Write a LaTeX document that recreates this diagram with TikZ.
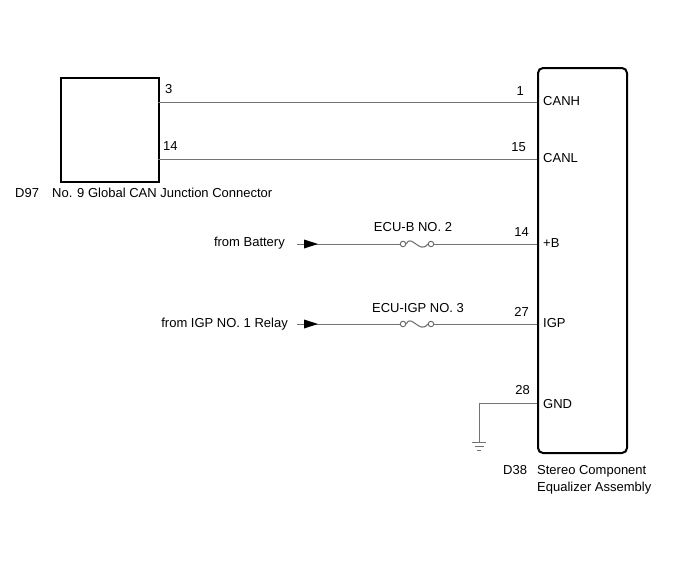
\documentclass[tikz,border=0pt]{standalone}
\usepackage{fontspec}
\setmainfont{Liberation Sans}
\usetikzlibrary{arrows.meta}
\tikzset{
  wire/.style={draw=black!55, line width=1pt},
  lbl/.style={inner sep=0pt, font=\fontsize{13}{15}\selectfont},
  comp/.style={draw=black, line width=2pt},
  feedtip/.style={draw=none, fill=black},
  fusecirc/.style={circle, draw=black!60, fill=white, line width=0.9pt, inner sep=0pt, minimum size=5.5pt},
}
\begin{document}
\begin{tikzpicture}[x=1pt,y=-1pt]
\useasboundingbox (0,0) rectangle (688,560);
% components
\node[comp, minimum width=98pt, minimum height=104pt, inner sep=0pt, anchor=north west] (boxL) at (60,77) {};
\node[comp, rounded corners=5pt, minimum width=89pt, minimum height=385pt, inner sep=0pt, anchor=north west] (boxR) at (537,67) {};
% coordinates
\coordinate (canhL) at (158,102);
\coordinate (canhR) at (537,102);
\coordinate (canlL) at (158,159);
\coordinate (canlR) at (537,159);
\coordinate (batS) at (297,244);
\coordinate (bR) at (537,244);
\coordinate (igS) at (297,324);
\coordinate (iR) at (537,324);
\coordinate (gR) at (537,403);
\coordinate (gC) at (479,403);
\coordinate (gB) at (479,442);
% CAN wires
\draw[wire] (canhL) -- (canhR);
\draw[wire] (canlL) -- (canlR);
% fuses
\node[fusecirc] (f1a) at (403,244) {};
\node[fusecirc] (f1b) at (431,244) {};
\node[fusecirc] (f2a) at (403,324) {};
\node[fusecirc] (f2b) at (431,324) {};
\draw[wire] (batS) -- (f1a);
\fill[feedtip] (304,239.5) -- (318,244) -- (304,248.5) -- cycle;
\draw[wire] (f1b) -- (bR);
\draw[wire, line width=1.1pt] (f1a.east) .. controls (411,233) and (420,255) .. (f1b.west);
\draw[wire] (igS) -- (f2a);
\fill[feedtip] (304,319.5) -- (318,324) -- (304,328.5) -- cycle;
\draw[wire] (f2b) -- (iR);
\draw[wire, line width=1.1pt] (f2a.east) .. controls (411,313) and (420,335) .. (f2b.west);
% ground
\draw[wire] (gR) -- (gC) -- (gB);
\draw[wire] (472,442) -- (486,442);
\draw[wire] (474.5,446) -- (483.5,446);
\draw[wire] (477,450) -- (481,450);
% labels
\node[lbl, anchor=base west] (p3) at (165,93) {3};
\node[lbl, anchor=base west] (p14a) at (163,150) {14};
\node[lbl, anchor=base east] (p1) at (524,95) {1};
\node[lbl, anchor=base east] (p15) at (526,151) {15};
\node[lbl, anchor=base west] (tcanh) at (543,105) {CANH};
\node[lbl, anchor=base west] (tcanl) at (543,162) {CANL};
\node[lbl, anchor=base east] (p14b) at (529,236) {14};
\node[lbl, anchor=base west] (tb) at (543,247) {+B};
\node[lbl, anchor=base] (fuse1) at (413,231) {ECU-B NO. 2};
\node[lbl, anchor=base east] (fbat) at (285,246) {from Battery};
\node[lbl, anchor=base east] (p27) at (529,316) {27};
\node[lbl, anchor=base west] (tigp) at (543,327) {IGP};
\node[lbl, anchor=base] (fuse2) at (418,312) {ECU-IGP NO. 3};
\node[lbl, anchor=base east] (figp) at (288,327) {from IGP NO. 1 Relay};
\node[lbl, anchor=base east] (p28) at (530,394) {28};
\node[lbl, anchor=base west] (tgnd) at (543,408) {GND};
\node[lbl, anchor=base west] (d97) at (15,197) {D97};
\node[lbl, anchor=base west] (nameL) at (52,197) {No. 9 Global CAN Junction Connector};
\node[lbl, anchor=base west] (d38) at (503,474) {D38};
\node[lbl, anchor=base west] (nameR1) at (537,474) {Stereo Component};
\node[lbl, anchor=base west] (nameR2) at (537,491) {Equalizer Assembly};
\end{tikzpicture}
\end{document}
